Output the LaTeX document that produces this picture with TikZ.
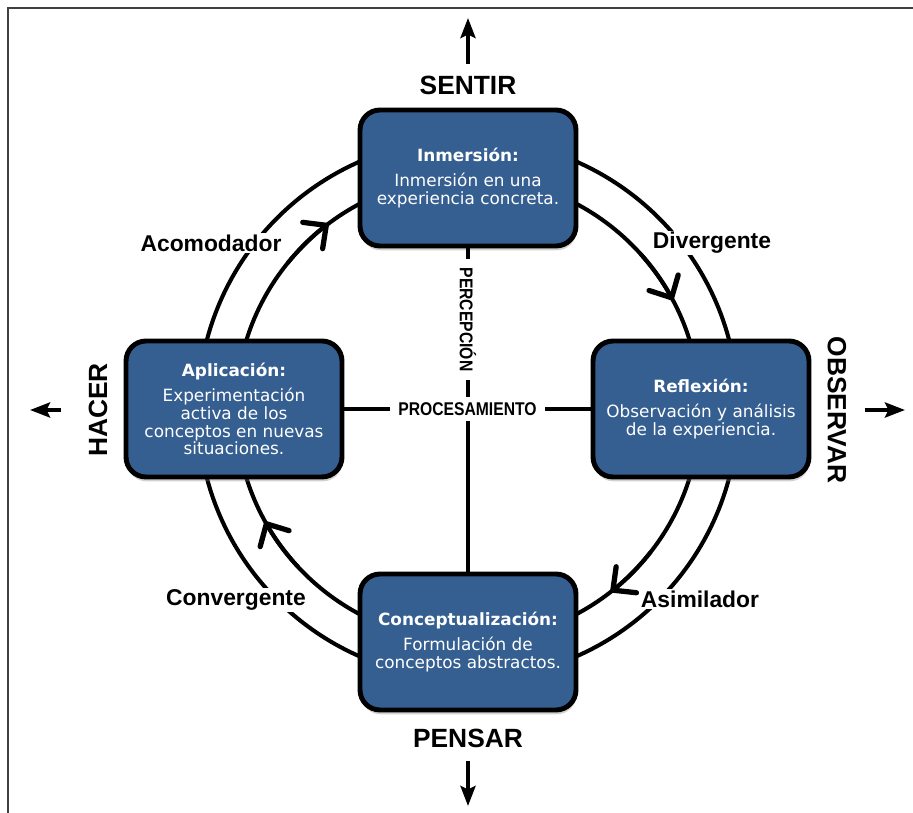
\documentclass[tikz,border=0pt]{standalone}
\usepackage{fontspec}
\setmainfont{Liberation Sans}
\newfontfamily\boxfont{DejaVu Sans}
\newfontfamily\narrowfont[FakeStretch=0.85]{Liberation Sans}
\usepackage{tikz}
\usetikzlibrary{positioning}
\usetikzlibrary{arrows.meta}
\usetikzlibrary{shadows}
\definecolor{stageblue}{RGB}{54,95,145}
\tikzset{stage node/.style={rectangle,rounded corners=0.4cm,draw=black,line width=2.8pt,fill=stageblue,text=white,minimum width=4.32cm,minimum height=2.72cm,align=center,inner sep=2pt,font=\boxfont\fontsize{9.6}{10.2}\selectfont,drop shadow={shadow xshift=0.4pt,shadow yshift=-2.5pt,opacity=0.35}},}
\tikzset{style node/.style={fill=white,inner sep=1pt,font=\bfseries\fontsize{13}{15}\selectfont},}
\tikzset{pole node/.style={font=\bfseries\fontsize{15}{17}\selectfont},}
\tikzset{axis node/.style={fill=white,inner xsep=5pt,inner ysep=3pt,font=\narrowfont\bfseries\fontsize{10.5}{12}\selectfont},}
\tikzset{pole arrow/.style={line width=2.2pt,-{Stealth[length=0.4cm,width=0.3cm,inset=0.07cm]}},}

\begin{document}
\begin{tikzpicture}[x=0.02cm, y=-0.02cm,
    ring/.style={line width=2.3pt},
    cycle tip/.style={line width=2.3pt,-{Straight Barb[length=0.34cm,width=0.66cm,line width=3pt,round]}}]
    \useasboundingbox (0,0) rectangle (913,813);
    \fill[white] (0,0) rectangle (913,813);
    \draw[black!75, line width=1pt] (913,8) -- (8,8) -- (8,813);

    \coordinate (ctr) at (468,409);
    \draw[ring] (ctr) ++(0:270) arc[start angle=0, end angle=360, radius=270];
    \draw[ring] (ctr) ++(0:232) arc[start angle=0, end angle=360, radius=232];
    \draw[cycle tip] (ctr) ++(38:232) arc[start angle=38, end angle=52, radius=232];
    \draw[cycle tip] (ctr) ++(137:232) arc[start angle=137, end angle=151, radius=232];
    \draw[cycle tip] (ctr) ++(219:232) arc[start angle=219, end angle=233, radius=232];
    \draw[cycle tip] (ctr) ++(318:232) arc[start angle=318, end angle=332, radius=232];

    \node[stage node] (inm) at (468,178) {\textbf{Inmersión:}\\[4pt]Inmersión en una\\experiencia concreta.};
    \node[stage node] (refl) at (701,409) {\textbf{Reflexión:}\\[4pt]Observación y análisis\\de la experiencia.};
    \node[stage node] (conc) at (468,642) {\textbf{Conceptualización:}\\[4pt]Formulación de\\conceptos abstractos.};
    \node[stage node] (apl) at (234,409) {\textbf{Aplicación:}\\[4pt]Experimentación\\activa de los\\conceptos en nuevas\\situaciones.};

    \node[style node] (acom) at (211,243) {Acomodador};
    \node[style node] (div) at (712,243) {Divergente};
    \node[style node] (conv) at (236,600) {Convergente};
    \node[style node] (asim) at (700,599) {Asimilador};

    \draw[ring] (inm) -- node[axis node, pos=0.22, rotate=-90] {PERCEPCIÓN} (conc);
    \draw[ring] (apl) -- node[axis node, pos=0.5] {PROCESAMIENTO} (refl);

    \node[pole node] (sentir) at (468,85) {SENTIR};
    \node[pole node] (pensar) at (468,738) {PENSAR};
    \node[pole node, rotate=90] (hacer) at (98,410) {HACER};
    \node[pole node, rotate=-90] (observar) at (837,410) {OBSERVAR};

    \coordinate (up) at (468,18);
    \coordinate (down) at (468,806);
    \coordinate (left) at (30,410);
    \coordinate (right) at (905,410);
    \draw[pole arrow, shorten <=0.1cm] (sentir) -- (up);
    \draw[pole arrow, shorten <=0.14cm] (pensar) -- (down);
    \draw[pole arrow, shorten <=0.42cm] (hacer) -- (left);
    \draw[pole arrow, shorten <=0.24cm] (observar) -- (right);
\end{tikzpicture}
\end{document}
